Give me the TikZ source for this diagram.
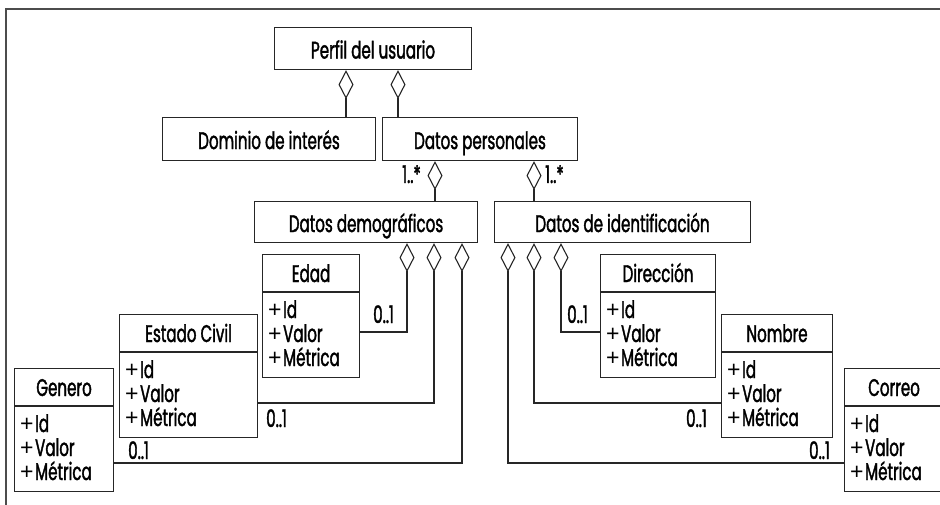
\documentclass[tikz,border=0pt]{standalone}
\usepackage{fontspec}
\setmainfont[FakeStretch=0.63, FakeBold=1.5]{Poppins}
\newfontfamily\plusfont{Liberation Sans}
\usetikzlibrary{arrows.meta,calc}
\tikzset{
  box/.style={draw=black!85, line width=1.1pt, inner sep=0pt, anchor=north west},
  ttl/.style={anchor=base, inner sep=0pt},
  attr/.style={anchor=base west, inner sep=0pt},
  mult/.style={inner sep=0pt},
  agg/.style={draw=black!85, line width=1.1pt, -{Diamond[open, length=29pt, width=15pt, line width=1.1pt]}},
  frameline/.style={draw=black!70, line width=1.4pt}
}
\newcommand\pls{\raisebox{1pt}{\plusfont\fontsize{23}{26}\selectfont +}\kern1.5pt}
\newcommand\mkbox[6]{% name, x1, y1, x2, y2, title
  \node[box, minimum width=#4-#2, minimum height=#5-#3] (#1) at (#2,#3) {};
  \node[ttl] (#1t) at ($(#1.center)+(0,10)$) {#6};
}
\newcommand\mkclass[6]{% name, x1, y1, x2, title, dummy
  \node[box, minimum width=#4-#2, minimum height=123pt] (#1) at (#2,#3) {};
  \draw[draw=black!85, line width=1.1pt] ($(#1.north west)+(0,38)$) -- ($(#1.north east)+(0,38)$);
  \node[ttl] (#1t) at ($(#1.north)+(0,28)$) {#5};
  \node[attr] (#1a) at ($(#1.north west)+(6,64)$) {\pls Id};
  \node[attr] (#1b) at ($(#1.north west)+(6,88)$) {\pls Valor};
  \node[attr] (#1c) at ($(#1.north west)+(6,112)$) {\pls Métrica};
}
\begin{document}
\begin{tikzpicture}[x=1pt,y=-1pt, font=\fontsize{24}{28}\selectfont]
\clip (0,0) rectangle (940,505);
\fill[white] (0,0) rectangle (940,505);
\draw[frameline] (6,510) -- (6,9) -- (945,9);

\mkbox{perfil}{274}{27}{471}{69}{Perfil del usuario}
\mkbox{dominio}{162}{117}{375}{160}{Dominio de interés}
\mkbox{personales}{382}{117}{577}{160}{Datos personales}
\mkbox{demo}{254}{201}{477}{242}{Datos demográficos}
\mkbox{ident}{494}{201}{750}{242}{Datos de identificación}

\mkclass{edad}{262}{254}{359}{Edad}{}
\mkclass{estado}{119}{314}{257}{Estado Civil}{}
\mkclass{genero}{14}{368}{113}{Genero}{}
\mkclass{direccion}{600}{254}{715}{Dirección}{}
\mkclass{nombre}{721}{314}{832}{Nombre}{}
\mkclass{correo}{844}{368}{943}{Correo}{}

% aggregations
\draw[agg] ($(dominio.north west)+(184,0)$) -- ($(perfil.south west)+(72,0)$);
\draw[agg] ($(personales.north west)+(16,0)$) -- ($(perfil.south west)+(124,0)$);
\draw[agg] ($(demo.north west)+(181,0)$) -- ($(personales.south west)+(53,0)$);
\draw[agg] ($(ident.north west)+(40,0)$) -- ($(personales.south west)+(152,0)$);

\draw[agg] ($(edad.north east)+(0,78)$) -| ($(demo.south west)+(153,0)$);
\draw[agg] ($(estado.north east)+(0,89)$) -| ($(demo.south west)+(180,0)$);
\draw[agg] ($(genero.north east)+(0,95)$) -| ($(demo.south west)+(208,0)$);
\draw[agg] ($(direccion.north west)+(0,78)$) -| ($(ident.south west)+(67,0)$);
\draw[agg] ($(nombre.north west)+(0,89)$) -| ($(ident.south west)+(40,0)$);
\draw[agg] ($(correo.north west)+(0,95)$) -| ($(ident.south west)+(14,0)$);

% multiplicities
\node[mult, anchor=base east] (m1) at (421,183) {1..*};
\node[mult, anchor=base west] (m2) at (545,183) {1..*};
\node[mult, anchor=base west] (m3) at (373,323) {0..1};
\node[mult, anchor=base west] (m4) at (266,427) {0..1};
\node[mult, anchor=base west] (m5) at (128,459) {0..1};
\node[mult, anchor=base west] (m6) at (567,323) {0..1};
\node[mult, anchor=base east] (m7) at (707,427) {0..1};
\node[mult, anchor=base east] (m8) at (830,459) {0..1};
\end{tikzpicture}
\end{document}
